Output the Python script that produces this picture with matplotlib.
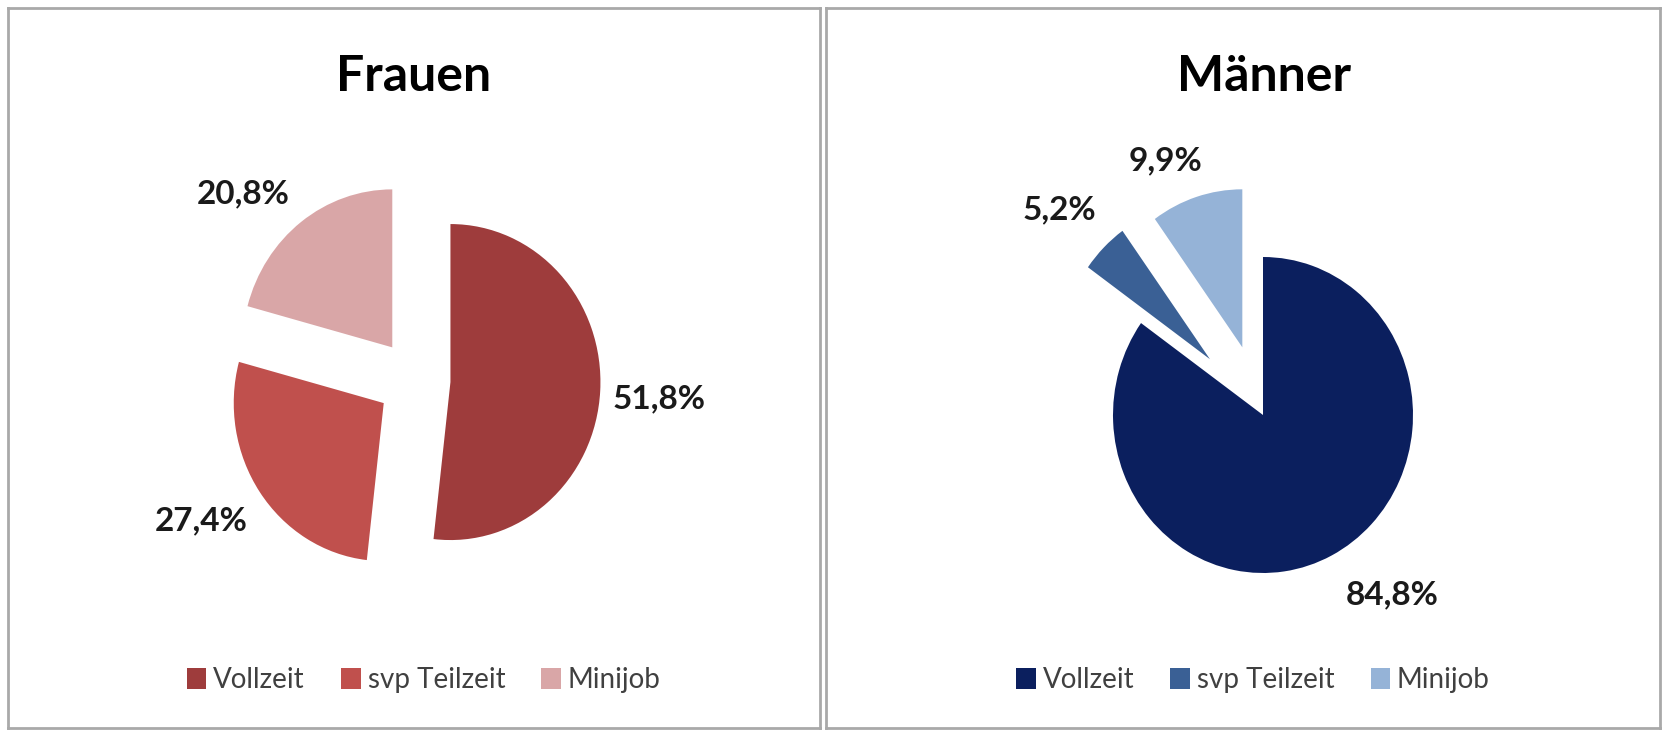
import matplotlib
matplotlib.use("Agg")
import matplotlib.pyplot as plt

plt.rcParams["font.family"] = ["Lato", "DejaVu Sans"]

# data
categories = ["Vollzeit", "svp Teilzeit", "Minijob"]
frauen_values = [51.8, 27.4, 20.8]
maenner_values = [84.8, 5.2, 9.9]
frauen_labels = ["51,8%", "27,4%", "20,8%"]
maenner_labels = ["84,8%", "5,2%", "9,9%"]

frauen_colors = ["#9E3C3C", "#C0504D", "#D9A6A7"]
maenner_colors = ["#0B1F5E", "#3A6095", "#95B3D7"]

W, H = 1666, 730
RX, RY = 150.0, 158.0  # pie radius in pixels (reference is stretched vertically)


def draw_panel(fig, box, center, title, values, labels, colors, explode,
               label_offsets, title_x):
    x0, y0, x1, y1 = box
    ax = fig.add_axes([x0 / W, 1 - y1 / H, (x1 - x0) / W, (y1 - y0) / H])
    wedges, _ = ax.pie(values, colors=colors, startangle=90, counterclock=False,
                       explode=explode, radius=1.0,
                       wedgeprops=dict(linewidth=0))
    ax.set_aspect("auto")
    cx, cy = center
    ax.set_xlim((x0 - cx) / RX, (x1 - cx) / RX)
    ax.set_ylim(-(y1 - cy) / RY, (cy - y0) / RY)
    ax.set_frame_on(True)
    for s in ax.spines.values():
        s.set_color("#A9A9A9")
        s.set_linewidth(2)
    ax.set_xticks([])
    ax.set_yticks([])

    for lab, (dx, dy) in zip(labels, label_offsets):
        ax.text(dx, dy, lab, ha="center", va="center", fontsize=24,
                fontweight="bold", color="#1a1a1a")

    ax.text(title_x, 0.905, title, transform=ax.transAxes, ha="center",
            va="center", fontsize=36, fontweight="bold", color="black")

    ax.legend(wedges, categories, loc="center", bbox_to_anchor=(0.512, 0.066),
              ncol=3, frameon=False, fontsize=20, handlelength=0.7,
              handleheight=0.8, handletextpad=0.25, columnspacing=1.3,
              labelcolor="#404040")
    return ax


fig = plt.figure(figsize=(W / 100, H / 100), dpi=100)
fig.patch.set_facecolor("white")

draw_panel(fig, (8, 8, 820, 728), (416, 380), "Frauen", frauen_values,
           frauen_labels, frauen_colors, [0.23, 0.26, 0.26],
           [(1.62, -0.12), (-1.43, -0.89), (-1.15, 1.18)], 0.5)

draw_panel(fig, (826, 8, 1660, 728), (1263, 415), "Männer", maenner_values,
           maenner_labels, maenner_colors, [0.0, 0.5, 0.45],
           [(0.86, -1.14), (-1.36, 1.30), (-0.65, 1.61)], 0.525)

fig.savefig("out.png", dpi=100)
